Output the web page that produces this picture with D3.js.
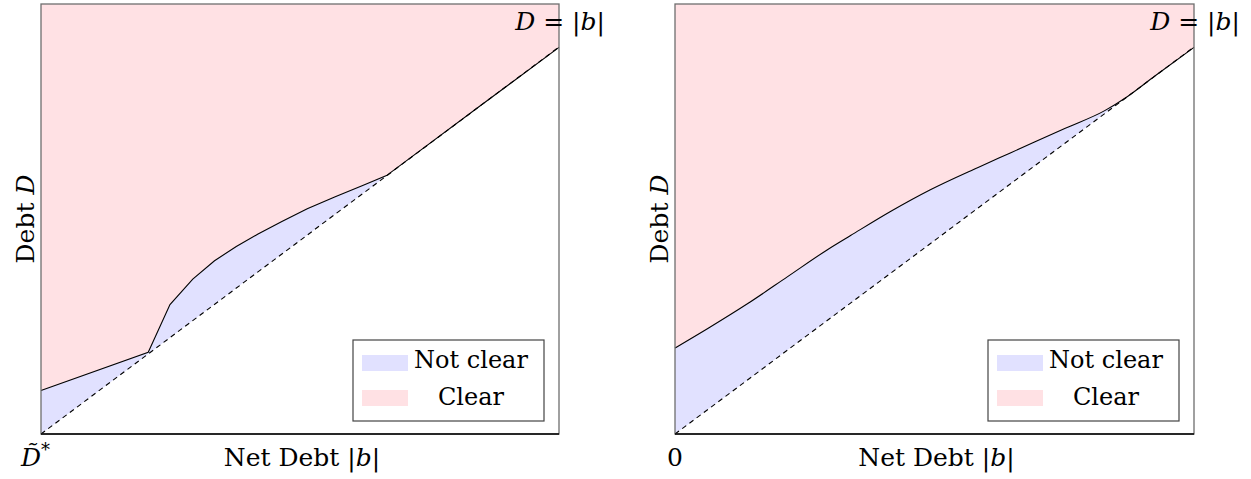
<!DOCTYPE html>
<html>
<head>
<meta charset="utf-8">
<script src="https://cdn.jsdelivr.net/npm/d3@7"></script>
<style>
  body { margin: 0; background: #fff; }
  text { font-family: "DejaVu Serif", serif; fill: #000; }
</style>
</head>
<body>
<script>
// normalised net debt |b| (x) and debt D (y)
var leftX     = [0, 0.207, 0.249, 0.293, 0.335, 0.377, 0.419, 0.465, 0.514, 0.568, 0.621, 0.667, 0.850, 1];
var leftUpper = [0.101, 0.190, 0.301, 0.360, 0.403, 0.436, 0.465, 0.494, 0.524, 0.552, 0.578, 0.601, 0.765, 0.899];

var rightX     = [0, 0.064, 0.141, 0.217, 0.293, 0.339, 0.416, 0.492, 0.584, 0.645, 0.752, 0.828, 0.872, 0.924, 1];
var rightUpper = [0.200, 0.246, 0.304, 0.366, 0.428, 0.462, 0.518, 0.568, 0.620, 0.653, 0.711, 0.752, 0.785, 0.832, 0.899];

// the D = |b| line
var diagX = [0, 1];
var diagY = [0, 0.9];
var slope = diagY[1] / diagX[1];

var legendLabels = ["Not clear", "Clear"];
var legendColors = ["#e1e1ff", "#ffe1e4"];

var W = 1251, H = 479;
var svg = d3.select("body").append("svg")
    .attr("width", W)
    .attr("height", H);

function panel(x0, x1, xs, ys, originLabel, curve) {
    var top = 4, bottom = 434;
    var x = d3.scaleLinear().domain([0, 1]).range([x0, x1]);
    var y = d3.scaleLinear().domain([0, 1]).range([bottom, top]);

    var pts = xs.map(function(d, i) { return {x: d, y: ys[i]}; });
    var g = svg.append("g");

    // clear region, above the boundary
    g.append("path")
        .datum(pts)
        .attr("fill", legendColors[1])
        .attr("d", d3.area()
            .curve(curve)
            .x(function(d) { return x(d.x); })
            .y0(y(1))
            .y1(function(d) { return y(d.y); }));

    // not clear region, between boundary and D = |b|
    g.append("path")
        .datum(pts)
        .attr("fill", legendColors[0])
        .attr("d", d3.area()
            .curve(curve)
            .x(function(d) { return x(d.x); })
            .y0(function(d) { return y(Math.min(d.y, d.x * slope)); })
            .y1(function(d) { return y(d.y); }));

    // dashed D = |b|
    g.append("path")
        .datum(diagX.map(function(d, i) { return {x: d, y: diagY[i]}; }))
        .attr("fill", "none")
        .attr("stroke", "#000")
        .attr("stroke-width", 1.1)
        .attr("stroke-dasharray", "5,4")
        .attr("d", d3.line().x(function(d) { return x(d.x); }).y(function(d) { return y(d.y); }));

    // boundary
    g.append("path")
        .datum(pts)
        .attr("fill", "none")
        .attr("stroke", "#000")
        .attr("stroke-width", 1.1)
        .attr("d", d3.line().curve(curve).x(function(d) { return x(d.x); }).y(function(d) { return y(d.y); }));

    // frame
    g.append("rect")
        .attr("x", x0).attr("y", top)
        .attr("width", x1 - x0).attr("height", bottom - top)
        .attr("fill", "none")
        .attr("stroke", "#6e6e6e")
        .attr("stroke-width", 1.3);
    g.append("line")
        .attr("x1", x0).attr("x2", x1)
        .attr("y1", bottom).attr("y2", bottom)
        .attr("stroke", "#000")
        .attr("stroke-width", 1.6);

    // D = |b| label
    var lab = g.append("text")
        .attr("x", x1 + 46).attr("y", 30)
        .attr("text-anchor", "end")
        .style("font-size", "25px");
    lab.append("tspan").style("font-style", "italic").text("D");
    lab.append("tspan").text(" = |");
    lab.append("tspan").style("font-style", "italic").text("b");
    lab.append("tspan").text("|");

    // x axis label
    var xl = g.append("text")
        .attr("x", (x0 + x1) / 2 + 2).attr("y", 466)
        .attr("text-anchor", "middle")
        .style("font-size", "25px");
    xl.append("tspan").text("Net Debt |");
    xl.append("tspan").style("font-style", "italic").text("b");
    xl.append("tspan").text("|");

    // y axis label
    var yl = g.append("text")
        .attr("transform", "translate(" + (x0 - 7) + "," + ((top + bottom) / 2) + ") rotate(-90)")
        .attr("text-anchor", "middle")
        .style("font-size", "25px");
    yl.append("tspan").text("Debt ");
    yl.append("tspan").style("font-style", "italic").text("D");

    // origin label
    if (originLabel === "0") {
        g.append("text")
            .attr("x", x0).attr("y", 466)
            .attr("text-anchor", "middle")
            .style("font-size", "25px")
            .text("0");
    } else {
        var ol = g.append("text")
            .attr("x", x0 - 20).attr("y", 466)
            .style("font-size", "25px");
        ol.append("tspan").style("font-style", "italic").text("D\u0303");
        ol.append("tspan").attr("dy", -10).style("font-size", "18px").text("*");
    }

    // legend
    var lx = x1 - 206, ly = 340;
    var lg = g.append("g").attr("transform", "translate(" + lx + "," + ly + ")");
    lg.append("rect")
        .attr("width", 191).attr("height", 81)
        .attr("fill", "#fff")
        .attr("stroke", "#444")
        .attr("stroke-width", 1.2);
    legendLabels.forEach(function(t, i) {
        lg.append("rect")
            .attr("x", 9).attr("y", 15 + i * 35)
            .attr("width", 46).attr("height", 16)
            .attr("fill", legendColors[i]);
        lg.append("text")
            .attr("x", 118).attr("y", 28 + i * 37)
            .attr("text-anchor", "middle")
            .style("font-size", "24px")
            .text(t);
    });
}

panel(41, 559, leftX, leftUpper, "D*", d3.curveLinear);
panel(675, 1194, rightX, rightUpper, "0", d3.curveMonotoneX);
</script>
</body>
</html>
